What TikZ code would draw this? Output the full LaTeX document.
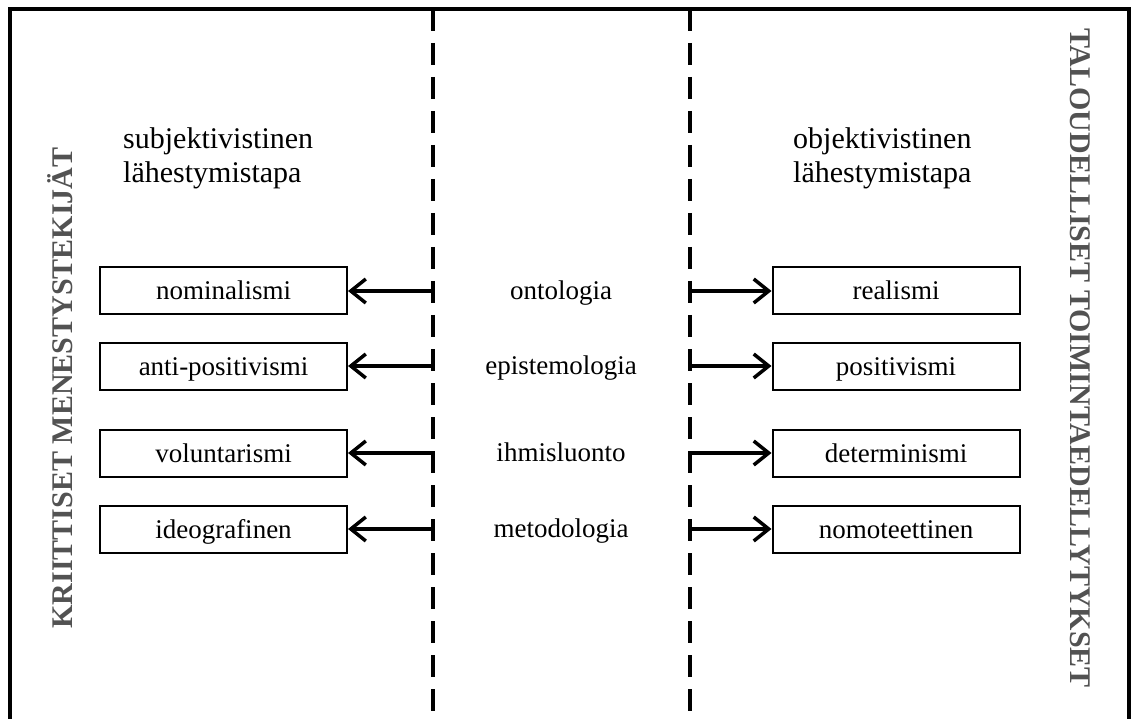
\documentclass[tikz,border=0pt]{standalone}
\usepackage{fontspec}
\setmainfont{Liberation Serif}
\usetikzlibrary{arrows.meta,positioning}

\tikzset{
  concept/.style={draw, line width=2pt, minimum width=247pt, minimum height=47pt, inner sep=0pt, text height=22pt, text depth=4pt, font=\fontsize{27}{32}\selectfont},
  aspect/.style={inner sep=0pt, text height=22pt, text depth=5pt, font=\fontsize{27}{32}\selectfont},
  approach/.style={font=\fontsize{30}{34}\selectfont, align=left, inner sep=0pt, anchor=north west},
  sidetitle/.style={font=\fontsize{30}{34}\selectfont\bfseries, text=black!68, inner sep=0pt, anchor=base},
  divider/.style={line width=3.5pt, dash pattern=on 22pt off 12pt},
  pointer/.style={line width=3.5pt, -{Straight Barb[length=15pt,width=24pt]}}
}

\begin{document}
\begin{tikzpicture}[x=1pt,y=-1pt]
	\useasboundingbox (0,0) rectangle (1135,719);
	% outer frame, open at the bottom
	\draw[line width=4pt] (10,740) -- (10,9) -- (1129,9) -- (1129,740);

	% dividers
	\coordinate (ltop) at (433,9);
	\coordinate (lbot) at (433,730);
	\coordinate (rtop) at (690,9);
	\coordinate (rbot) at (690,730);
	\draw[divider] (ltop) -- (lbot);
	\draw[divider] (rtop) -- (rbot);

	% side titles
	\node[sidetitle, rotate=90] (crit) at (72,388) {KRIITTISET MENESTYSTEKIJÄT};
	\node[sidetitle, rotate=-90] (econ) at (1070,358) {TALOUDELLISET TOIMINTAEDELLYTYKSET};

	% approaches
	\node[approach] (subj) at (123,127) {subjektivistinen\\lähestymistapa};
	\node[approach] (obj) at (793,127) {objektivistinen\\lähestymistapa};

	% left column
	\node[concept] (nom) at (223.5,291) {nominalismi};
	\node[concept] (anti) at (223.5,366) {anti-positivismi};
	\node[concept] (vol) at (223.5,453) {voluntarismi};
	\node[concept] (ideo) at (223.5,529) {ideografinen};

	% middle column
	\node[aspect] (onto) at (561,291) {ontologia};
	\node[aspect] (epis) at (561,366) {epistemologia};
	\node[aspect] (ihmi) at (561,453) {ihmisluonto};
	\node[aspect] (meto) at (561,529) {metodologia};

	% right column
	\node[concept] (real) at (896,291) {realismi};
	\node[concept] (posi) at (896,366) {positivismi};
	\node[concept] (dete) at (896,453) {determinismi};
	\node[concept] (nomo) at (896,529) {nomoteettinen};

	% arrows out of the dividers
	\coordinate (onto-l) at (433,291);
	\coordinate (epis-l) at (433,366);
	\coordinate (ihmi-l) at (433,453);
	\coordinate (meto-l) at (433,529);
	\coordinate (onto-r) at (690,291);
	\coordinate (epis-r) at (690,366);
	\coordinate (ihmi-r) at (690,453);
	\coordinate (meto-r) at (690,529);
	\draw[pointer] (onto-l) -- (nom);
	\draw[pointer] (epis-l) -- (anti);
	\draw[pointer] (ihmi-l) -- (vol);
	\draw[pointer] (meto-l) -- (ideo);
	\draw[pointer] (onto-r) -- (real);
	\draw[pointer] (epis-r) -- (posi);
	\draw[pointer] (ihmi-r) -- (dete);
	\draw[pointer] (meto-r) -- (nomo);
\end{tikzpicture}
\end{document}
